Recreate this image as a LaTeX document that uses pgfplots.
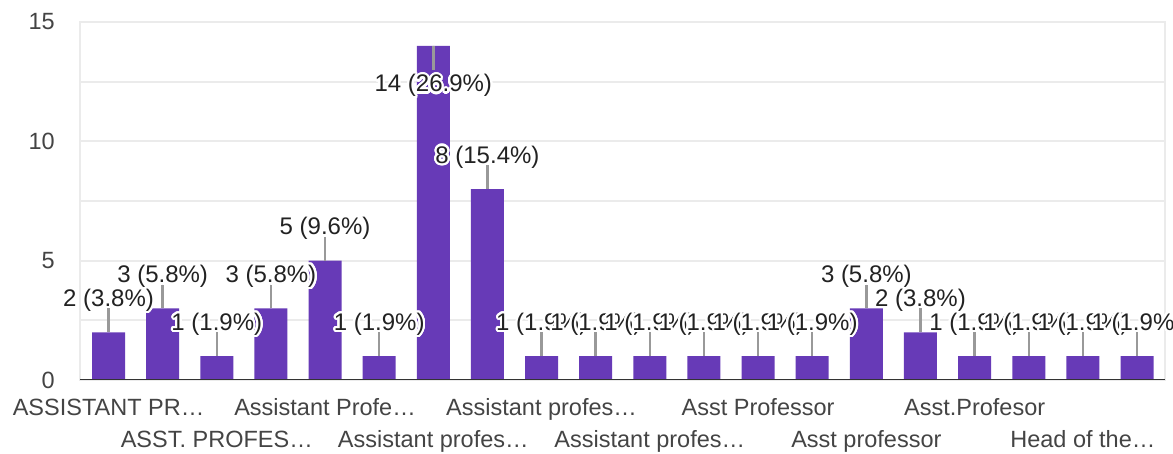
\documentclass[border=0pt]{standalone}
\usepackage{pgfplots}
\pgfplotsset{compat=1.18}
\usepackage{pgfplotstable}
\usepackage{fontspec}
\setmainfont{Liberation Sans}
\usepackage[copies]{contour}
\contourlength{2.2bp}
\contournumber{24}
\definecolor{barpurple}{HTML}{673AB7}
\definecolor{gridgray}{HTML}{EBEBEB}
\definecolor{axisdark}{HTML}{333333}
\definecolor{leadergray}{HTML}{999999}
\definecolor{labeltext}{HTML}{222222}
\definecolor{ticktext}{HTML}{444444}

\pgfplotstableread[col sep=comma]{
x,y,ep,em,lab
0,2,1,0,2 (3.8\%)
1,3,1,0,3 (5.8\%)
2,1,1,0,1 (1.9\%)
3,3,1,0,3 (5.8\%)
4,5,1,0,5 (9.6\%)
5,1,1,0,1 (1.9\%)
6,14,0,1,14 (26.9\%)
7,8,1,0,8 (15.4\%)
8,1,1,0,1 (1.9\%)
9,1,1,0,1 (1.9\%)
10,1,1,0,1 (1.9\%)
11,1,1,0,1 (1.9\%)
12,1,1,0,1 (1.9\%)
13,1,1,0,1 (1.9\%)
14,3,1,0,3 (5.8\%)
15,2,1,0,2 (3.8\%)
16,1,1,0,1 (1.9\%)
17,1,1,0,1 (1.9\%)
18,1,1,0,1 (1.9\%)
19,1,1,0,1 (1.9\%)
}\datatable

\begin{document}
\begin{tikzpicture}
\useasboundingbox (0,0) rectangle (1173bp,454bp);
\begin{axis}[
  at={(80bp,74bp)}, anchor=south west,
  scale only axis,
  width=1085bp, height=358bp,
  xmin=-0.527, xmax=19.517,
  ymin=0, ymax=15,
  ytick={0,5,10,15},
  minor ytick={2.5,7.5,12.5},
  ymajorgrids, yminorgrids,
  grid style={draw=gridgray, line width=2bp},
  minor grid style={draw=gridgray, line width=2bp},
  axis line style={draw=gridgray, line width=2bp},
  tick style={draw=none},
  /pgf/number format/assume math mode=true,
  xtick={0,4,8,12,16},
  xticklabels={ASSISTANT PR…, Assistant Profe…, Assistant profes…, Asst Professor, Asst.Profesor},
  extra x ticks={2,6,10,14,18},
  extra x tick labels={ASST. PROFES…, Assistant profes…, Assistant profes…, Asst professor, Head of the…},
  extra x tick style={xticklabel style={yshift=-32bp}},
  xticklabel style={anchor=base, inner sep=0pt, yshift=-35.5bp},
  yticklabel style={anchor=east, inner sep=0pt, xshift=-25bp},
  tick label style={font=\fontsize{23.5bp}{27bp}\selectfont, text=ticktext},
]
\addplot[ybar, bar width=33bp, fill=barpurple, draw=none,
  error bars/.cd, y dir=both, y explicit, error mark=none,
  error bar style={draw=leadergray, line width=2.5bp, line cap=butt}]
  table[x=x, y=y, y error plus=ep, y error minus=em] {\datatable};
\addplot[draw=none, mark=none,
  point meta=explicit symbolic,
  nodes near coords={\contour{white}{\pgfplotspointmeta}},
  every node near coord/.append style={anchor=center, yshift=31bp, inner sep=0pt,
    font=\fontsize{24bp}{28bp}\selectfont, text=labeltext},
  coordinate style/.condition={y>13}{yshift=-72bp}]
  table[x=x, y=y, meta=lab] {\datatable};
\draw[axisdark, line width=2.5bp] (rel axis cs:0,0) -- (rel axis cs:1,0);
\end{axis}
\end{tikzpicture}
\end{document}
